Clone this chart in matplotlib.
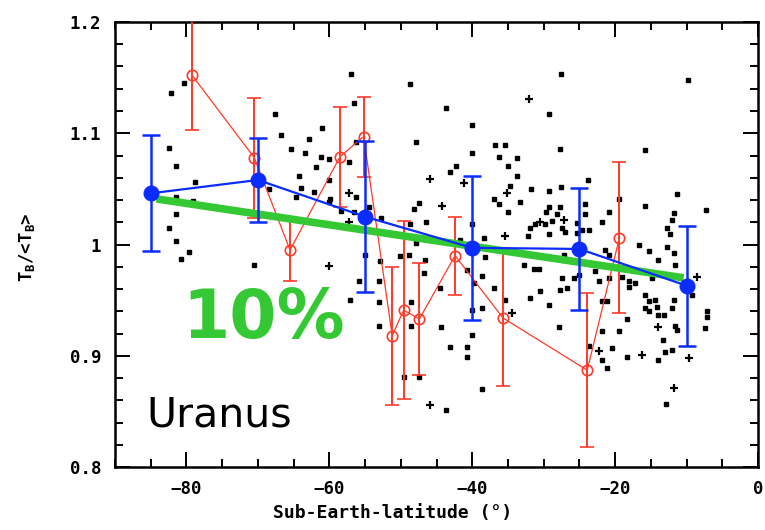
import matplotlib
matplotlib.use("Agg")
import matplotlib.pyplot as plt
from matplotlib.ticker import MultipleLocator, FixedLocator

# ---------------- data ----------------
sq_x = [-82.1, -80.3, -56.9, -56.5, -48.7, -67.6, -61.0, -66.7, -62.9, -47.8,
        -82.5, -65.3, -63.4, -61.1, -60.1, -61.8, -57.3, -81.5, -64.2, -60.1,
        -78.8, -64.0, -68.4, -62.2, -64.6, -81.5, -79.1, -60.1, -47.5, -48.2,
        -58.3, -56.6, -52.7, -46.4, -82.5, -81.5, -54.5, -79.7, -80.8, -70.6,
        -52.9, -50.1, -48.9, -46.6, -46.7, -55.8, -53.0, -57.1, -53.0, -48.5,
        -53.0, -48.5, -49.6, -47.5, -38.2, -32.8, -31.4, -30.7, -27.2, -21.4,
        -20.9, -27.5, -25.8, -25.1, -22.8, -22.3, -20.9, -27.7, -26.8, -30.5,
        -31.9, -29.3, -37.0, -38.7, -39.8, -38.7, -35.4, -40.0, -44.4, -43.1,
        -40.7, -40.7, -40.1, -27.9, -38.7, -43.7, -21.9, -21.2, -21.9, -19.5,
        -18.4, -20.5, -21.9, -21.2, -23.7, -18.4, -19.1, -18.1, -17.2, -18.1,
        -15.8, -15.3, -14.4, -15.8, -15.3, -14.2, -14.0, -13.2, -11.8, -12.1,
        -11.6, -11.4, -13.3, -13.0, -14.0, -12.0, -12.9, -7.2, -7.2, -7.4,
        -9.3, -15.3, -14.0, -12.8, -11.8, -11.6, -16.7, -14.9, -43.7, -40.1,
        -27.6, -29.2, -9.8, -36.8, -35.4, -36.3, -33.8, -40.1, -27.7, -42.3,
        -43.1, -35.0, -33.8, -34.7, -31.8, -29.2, -27.6, -23.8, -15.8, -36.9,
        -36.2, -33.3, -35.0, -29.3, -29.7, -27.7, -28.2, -24.2, -24.2, -20.8,
        -19.5, -15.8, -11.4, -11.7, -12.0, -12.8, -12.3, -31.9, -31.2, -29.8,
        -28.9, -27.5, -27.0, -25.4, -24.7, -23.7, -25.4, -21.9, -32.2, -29.2,
        -38.3, -41.7, -40.1, -56.3, -56.2, -59.9, -47.8, -55.0, -40.8, -48.7,
        -44.5, -7.3, -81.4]
sq_y = [1.136, 1.145, 1.153, 1.127, 1.144, 1.117, 1.105, 1.098, 1.095, 1.092,
        1.087, 1.086, 1.082, 1.079, 1.077, 1.070, 1.074, 1.071, 1.062, 1.058,
        1.056, 1.051, 1.050, 1.047, 1.043, 1.043, 1.039, 1.038, 1.037, 1.032,
        1.030, 1.029, 1.024, 1.020, 1.015, 1.003, 1.034, 0.993, 0.987, 0.982,
        0.985, 0.990, 0.991, 0.986, 0.974, 0.967, 0.967, 0.950, 0.948, 0.948,
        0.927, 0.927, 0.881, 0.881, 0.989, 0.982, 0.978, 0.978, 0.991, 0.995,
        0.991, 0.970, 0.970, 0.973, 0.976, 0.967, 0.970, 0.959, 0.961, 0.958,
        0.952, 0.946, 0.961, 0.972, 0.965, 0.943, 0.950, 0.941, 0.926, 0.908,
        0.908, 0.899, 0.919, 0.926, 0.870, 0.851, 0.949, 0.949, 0.922, 0.922,
        0.933, 0.907, 0.896, 0.889, 0.909, 0.899, 0.971, 0.967, 0.965, 0.962,
        0.955, 0.949, 0.950, 0.943, 0.940, 0.944, 0.937, 0.937, 0.950, 0.943,
        0.927, 0.923, 0.914, 0.903, 0.896, 0.905, 0.857, 0.940, 0.935, 0.925,
        0.955, 0.994, 0.986, 0.998, 0.992, 0.982, 1.000, 0.970, 1.123, 1.107,
        1.153, 1.117, 1.148, 1.089, 1.089, 1.079, 1.078, 1.082, 1.086, 1.071,
        1.065, 1.071, 1.062, 1.053, 1.050, 1.048, 1.052, 1.058, 1.085, 1.041,
        1.036, 1.038, 1.029, 1.034, 1.029, 1.034, 1.027, 1.036, 1.027, 1.029,
        1.041, 1.035, 1.045, 1.028, 1.022, 1.015, 1.009, 1.015, 1.018, 1.018,
        1.021, 1.015, 1.011, 1.019, 1.013, 1.013, 1.010, 1.020, 1.008, 1.009,
        1.006, 1.004, 1.018, 1.092, 1.043, 1.041, 1.001, 0.991, 0.977, 1.018,
        0.961, 1.031, 1.027]

plus_x = [-45.9, -57.3, -57.3, -60.1, -32.0, -41.2, -44.2, -35.2, -30.5, -27.2,
          -35.4, -45.9, -34.5, -22.3, -16.3, -9.7, -11.8, -14.0, -8.5]
plus_y = [1.059, 1.046, 1.020, 0.981, 1.131, 1.055, 1.035, 1.046, 1.020, 1.022,
          1.008, 0.856, 0.938, 0.904, 0.901, 0.898, 0.871, 0.926, 0.971]

blue_x = [-85, -70, -55, -40, -25, -10]
blue_y = [1.046, 1.058, 1.025, 0.997, 0.996, 0.963]
blue_err = [0.052, 0.038, 0.068, 0.065, 0.055, 0.054]

red_x = [-79.2, -70.5, -65.5, -58.5, -55.2, -51.2, -49.6, -47.4, -42.4, -35.7, -23.9, -19.4]
red_y = [1.152, 1.078, 0.995, 1.079, 1.097, 0.918, 0.941, 0.933, 0.990, 0.934, 0.887, 1.006]
red_err = [0.049, 0.054, 0.028, 0.045, 0.036, 0.062, 0.080, 0.050, 0.035, 0.061, 0.069, 0.068]

trend_x = [-84.2, -10.4]
trend_y = [1.041, 0.970]

x_ticks = [-80, -60, -40, -20, 0]
x_ticklabels = ["\u221280", "\u221260", "\u221240", "\u221220", "0"]
y_ticks = [0.8, 0.9, 1.0, 1.1, 1.2]
y_ticklabels = ["0.8", "0.9", "1", "1.1", "1.2"]

# ---------------- figure ----------------
fig = plt.figure(figsize=(7.65, 5.30), dpi=100)
ax = fig.add_axes([115/765, 1 - 467/530, 643/765, 445/530])

GREEN = "#34c934"
BLUE = "#0a2cff"
RED = "#ff3a28"
mono = "DejaVu Sans Mono"

ax.plot(sq_x, sq_y, linestyle="none", marker="s", ms=3.2, color="black", zorder=1)
ax.plot(plus_x, plus_y, linestyle="none", marker="+", ms=6, mew=1.6, color="black", zorder=1)

ax.errorbar(red_x, red_y, yerr=red_err, fmt="-o", color=RED, lw=0.9, elinewidth=1.4,
            capsize=4.8, capthick=1.4, ms=7.5, mfc="none", mec=RED, mew=1.2, zorder=3)

ax.plot(trend_x, trend_y, color=GREEN, lw=5.5, solid_capstyle="butt", zorder=4)

ax.errorbar(blue_x, blue_y, yerr=blue_err, fmt="-o", color=BLUE, lw=1.6, elinewidth=1.8,
            capsize=6.5, capthick=1.8, ms=10.5, mfc=BLUE, mec=BLUE, zorder=5)

ax.set_xlim(-90, 0)
ax.set_ylim(0.8, 1.2)

ax.xaxis.set_major_locator(FixedLocator(x_ticks))
ax.set_xticklabels(x_ticklabels)
ax.xaxis.set_minor_locator(MultipleLocator(5))
ax.yaxis.set_major_locator(FixedLocator(y_ticks))
ax.set_yticklabels(y_ticklabels)
ax.yaxis.set_minor_locator(MultipleLocator(0.02))

ax.tick_params(which="both", direction="in", top=True, right=True, width=1.4)
ax.tick_params(which="major", length=10.5)
ax.tick_params(which="minor", length=5.5)
ax.tick_params(axis="x", which="major", pad=9, labelsize=12.5)
ax.tick_params(axis="y", which="major", pad=10, labelsize=12.5)
for lab in ax.get_xticklabels() + ax.get_yticklabels():
    lab.set_family(mono)
    lab.set_fontweight("bold")
for sp in ax.spines.values():
    sp.set_linewidth(1.8)

ax.set_xlabel("Sub-Earth-latitude (\u00b0)", family=mono, fontsize=13, fontweight="bold")
ax.xaxis.set_label_coords(0.431, -0.1034)
ax.xaxis.label.set_va("center")
ax.set_ylabel(r"T$_\mathregular{B}$/<T$_\mathregular{B}$>", family=mono, fontsize=12.5,
              fontweight="bold")
ax.yaxis.set_label_coords(-0.137, 0.494)
ax.yaxis.label.set_va("center")

ax.text(-69.2, 0.916, "10%", color=GREEN, fontsize=49, fontweight="bold",
        family="DejaVu Sans", ha="center", va="baseline", zorder=6)
ax.text(-85.56, 0.836, "Uranus", color="black", fontsize=29.5,
        family="DejaVu Sans", ha="left", va="baseline", zorder=6)

fig.savefig("out.png", dpi=100)
